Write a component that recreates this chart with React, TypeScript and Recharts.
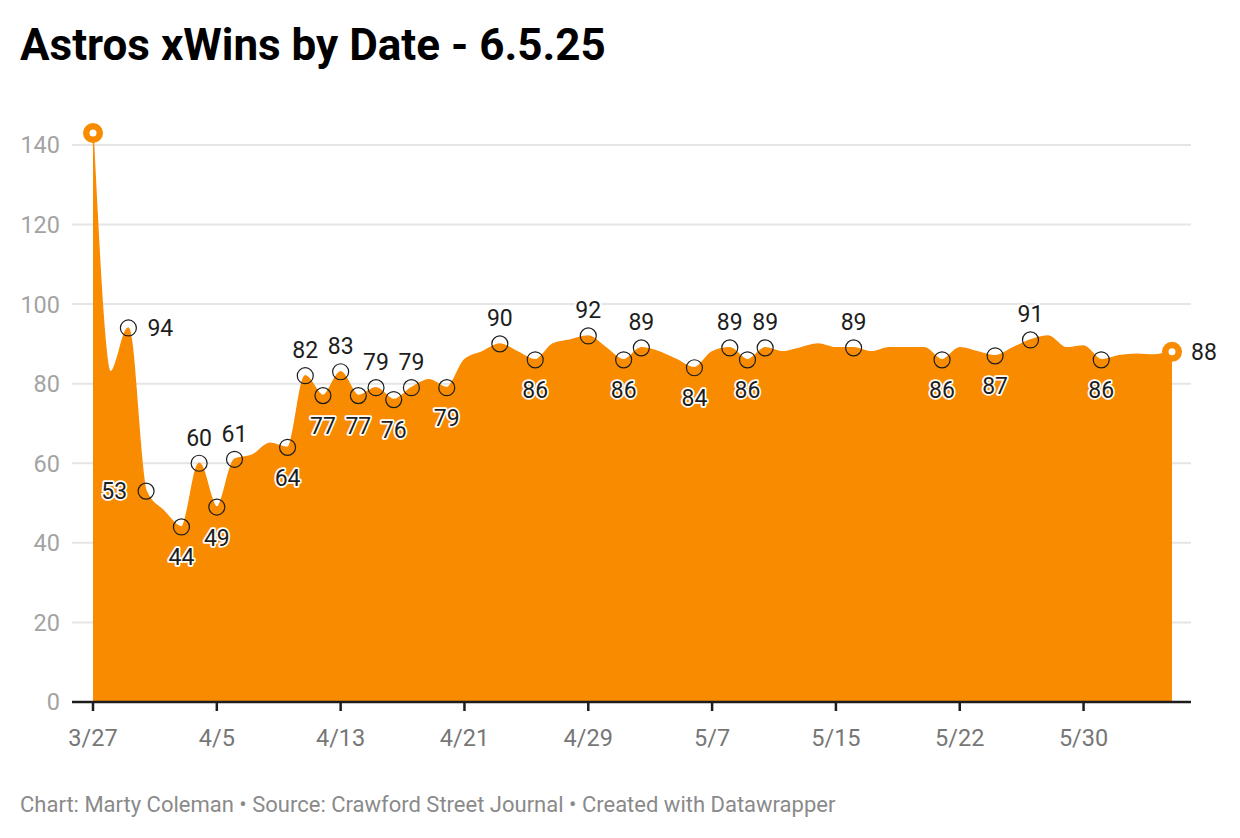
import { AreaChart, Area, XAxis, YAxis, CartesianGrid } from 'recharts';

const dates = [
  '3/27', '3/28', '3/29', '3/30', '4/1', '4/2', '4/3', '4/5',
  '4/6', '4/7', '4/8', '4/9', '4/11', '4/12', '4/13',
  '4/14', '4/15', '4/16', '4/18', '4/19', '4/20', '4/21',
  '4/22', '4/23', '4/24', '4/25', '4/26', '4/27', '4/29',
  '4/30', '5/1', '5/2', '5/3', '5/4', '5/6', '5/7',
  '5/8', '5/9', '5/10', '5/11', '5/12', '5/13', '5/15',
  '5/16', '5/17', '5/18', '5/19', '5/20', '5/21', '5/22',
  '5/23', '5/24', '5/25', '5/26', '5/27', '5/28', '5/30',
  '5/31', '6/1', '6/2', '6/3', '6/4',
];

const xWins = [
  143, 83, 94, 53, 48, 44, 60, 49,
  61, 62, 65, 64, 82, 77, 83,
  77, 79, 76, 79, 81, 79, 86,
  88, 90, 88, 86, 90, 91, 92,
  89, 86, 89, 88, 86, 84, 88,
  89, 86, 89, 88, 89, 90, 89,
  89, 88, 89, 89, 89, 86, 89,
  88, 87, 89, 91, 92, 89, 89.5,
  86, 87, 87.4, 87.2, 88,
];

const yTicks = [0, 20, 40, 60, 80, 100, 120, 140];

// which points carry a value label, and on which side of the point
const labelSide: Record<number, 'above' | 'below' | 'left' | 'right'> = {
  2: 'right', 3: 'left', 5: 'below', 6: 'above', 7: 'below', 8: 'above',
  11: 'below', 12: 'above', 13: 'below', 14: 'above', 15: 'below',
  16: 'above', 17: 'below', 18: 'above', 20: 'below', 23: 'above',
  25: 'below', 28: 'above', 30: 'below', 31: 'above', 34: 'below',
  36: 'above', 37: 'below', 38: 'above', 43: 'above', 48: 'below',
  51: 'below', 53: 'above', 57: 'below', 61: 'right',
};

const data = dates.map((date, i) => ({ date, xwins: xWins[i] }));

const ORANGE = '#f98b00';
const FONT = 'Roboto, "Noto Sans", sans-serif';

function renderDot(props: any) {
  const { cx, cy, index, payload } = props;
  const last = data.length - 1;
  const side = labelSide[index];
  const parts = [];
  if (index === 0 || index === last) {
    parts.push(<circle key="o" cx={cx} cy={cy} r={10} fill={ORANGE} />);
    parts.push(<circle key="w" cx={cx} cy={cy} r={3.5} fill="#fff" />);
  } else if (side) {
    parts.push(<circle key="c" cx={cx} cy={cy} r={8} fill="none" stroke="#1d1d1d" strokeWidth={1.2} />);
  }
  if (side) {
    let x = cx;
    let y = cy + 8;
    let anchor: 'start' | 'middle' | 'end' = 'middle';
    if (side === 'above') y = cy - 17.5;
    if (side === 'below') y = cy + 38.5;
    if (side === 'right') { x = cx + 19; anchor = 'start'; }
    if (side === 'left') { x = cx - 19; anchor = 'end'; }
    parts.push(
      <text key="t" x={x} y={y} textAnchor={anchor} fontFamily={FONT} fontSize={23}
        fill="#1d1d1d" stroke="#fff" strokeWidth={3.5} strokeLinejoin="round"
        style={{ paintOrder: 'stroke' }}>
        {Math.round(payload.xwins)}
      </text>
    );
  }
  return <g key={`dot-${index}`}>{parts}</g>;
}

function YTick(props: any) {
  const { y, payload } = props;
  return (
    <text x={60} y={y} dy="0.36em" textAnchor="end" fontFamily={FONT} fontSize={23.5} fill="#a3a3a3">
      {payload.value}
    </text>
  );
}

function XTick(props: any) {
  const { x, payload } = props;
  return (
    <text x={x} y={746} textAnchor="middle" fontFamily={FONT} fontSize={23.5} fill="#777">
      {payload.value}
    </text>
  );
}

export default function App() {
  return (
    <div style={{ position: 'absolute', left: 0, top: 0, width: 1240, height: 838, background: '#fff' }}>
      <svg width={1240} height={838} style={{ position: 'absolute', left: 0, top: 0 }}>
        <text x={20} y={60} fontFamily={FONT} fontWeight={700} fontSize={44} fill="#000">
          Astros xWins by Date - 6.5.25
        </text>
        <text x={20} y={812} fontFamily={FONT} fontSize={22} fill="#8a8a8a">
          Chart: Marty Coleman • Source: Crawford Street Journal • Created with Datawrapper
        </text>
      </svg>
      <div style={{ position: 'absolute', left: 0, top: 0 }}>
        <AreaChart width={1240} height={838} data={data}
          margin={{ top: 133, right: 49, bottom: 106, left: 0 }}>
          <CartesianGrid vertical={false} stroke="#e5e5e5" strokeWidth={2}
            horizontalValues={yTicks} />
          <YAxis domain={[0, 'dataMax']} ticks={yTicks} width={72} axisLine={false}
            tickLine={false} tick={<YTick />} interval={0} />
          <XAxis dataKey="date" interval={6} padding={{ left: 21, right: 19 }} height={30}
            axisLine={{ stroke: '#1d1d1d', strokeWidth: 2.5 }}
            tickLine={{ stroke: '#1d1d1d', strokeWidth: 2.5 }} tickSize={9}
            tick={<XTick />} />
          <Area type="monotone" dataKey="xwins" fill={ORANGE} fillOpacity={1}
            stroke={ORANGE} strokeWidth={1.5} dot={renderDot} activeDot={false}
            isAnimationActive={false} />
        </AreaChart>
      </div>
    </div>
  );
}
